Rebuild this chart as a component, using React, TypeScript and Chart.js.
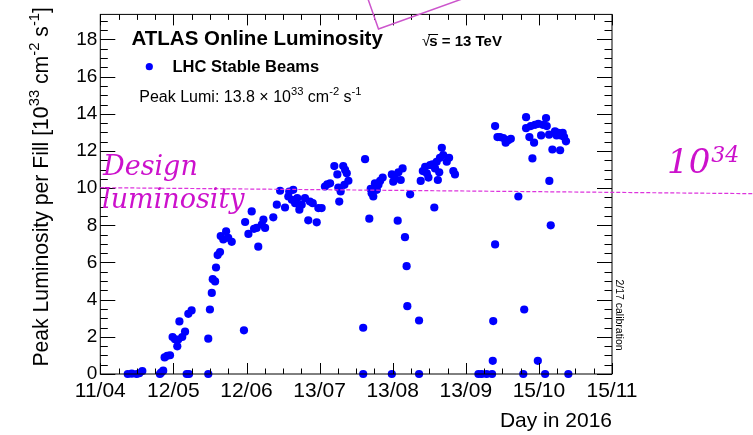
import { useEffect, useRef } from 'react';
import { Chart, registerables } from 'chart.js';

Chart.register(...registerables);

// ---- data (day of year 2016, peak luminosity in 1e33 cm^-2 s^-1) ----
const fillDay = [
  113.7, 115.4, 117.5, 118.6, 119.9, 127.4, 127.9, 128.8, 129.4, 130.5,
  131.7, 132.8, 133.8, 134.8, 135.2, 135.7, 136.9, 138.1, 138.8, 139.8,
  139.5, 140.9, 148.0, 148.0, 148.7, 149.5, 149.9, 150.9, 151.3, 152.0,
  153.0, 153.3, 154.4, 155.6, 156.5, 158.0, 163.2, 163.7, 165.1, 166.5,
  167.5, 168.6, 169.3, 170.8, 171.5, 172.2, 175.7, 177.2, 178.6, 180.7,
  182.1, 182.5, 183.6, 184.2, 185.0, 185.9, 186.8, 187.8, 189.2, 190.6,
  191.3, 192.5, 194.2, 194.9, 196.3, 197.7, 198.7, 199.9, 201.7, 203.0,
  203.4, 203.8, 204.4, 205.5, 206.0, 206.3, 207.0, 207.7, 214.0, 214.0,
  214.8, 216.6, 217.2, 217.6, 218.3, 219.0, 219.8, 220.5, 221.2, 222.3,
  226.2, 226.2, 226.8, 227.6, 228.7, 229.0, 230.0, 230.8, 231.8, 232.5,
  232.8, 234.0, 237.8, 237.8, 238.5, 239.4, 240.4, 241.1, 241.8, 242.5,
  243.5, 244.3, 244.6, 245.3, 245.8, 246.4, 246.7, 247.5, 248.1, 249.6,
  250.6, 252.4, 253.1, 263.1, 264.5, 266.6, 268.9, 269.2, 269.4, 270.2,
  270.2, 271.2, 272.3, 273.7, 274.7, 275.8, 276.9, 280.1, 282.2, 282.6,
  283.4, 283.4, 284.8, 285.4, 286.1, 286.8, 287.2, 288.4, 288.6, 289.8,
  290.5, 291.5, 291.9, 292.2, 293.2, 293.3, 293.9, 294.6, 295.7, 296.4,
  297.1, 297.9, 298.2, 299.0, 299.6, 300.4, 301.4,
];
const peakLumi = [
  0, 0.02, 0, 0.04, 0.16, 0, 0.07, 0.18, 0.89, 0.98,
  1.01, 1.99, 1.87, 1.49, 1.85, 2.83, 1.99, 2.28, 0, 0,
  3.24, 3.42, 1.9, 0, 3.47, 4.36, 5.1, 4.98, 5.73, 6.4,
  6.56, 7.42, 7.24, 7.68, 7.33, 7.11, 2.35, 8.18, 7.54, 8.75,
  7.81, 7.86, 6.85, 8.04, 8.31, 7.86, 8.43, 9.11, 9.86, 8.96,
  9.55, 9.82, 9.37, 9.91, 9.19, 9.46, 8.84, 9.11, 9.46, 8.27,
  9.28, 9.19, 8.16, 8.93, 8.93, 10.09, 10.21, 10.26, 11.19, 10.74,
  10.03, 9.28, 9.82, 11.19, 10.18, 10.98, 10.8, 10.4, 2.49, 0,
  11.56, 8.36, 9.96, 9.73, 9.55, 10.26, 9.91, 10.18, 10.39, 10.57,
  10.74, 0, 10.35, 10.5, 8.25, 10.85, 10.44, 11.06, 7.36, 5.8,
  3.65, 9.67, 2.88, 0, 10.39, 10.92, 11.15, 10.8, 10.57, 11.24,
  11.28, 8.96, 11.06, 11.42, 10.44, 10.85, 11.63, 12.17, 11.78, 11.42,
  11.63, 10.92, 10.74, 0, 0, 0, 0, 0.71, 2.85, 6.97,
  13.34, 12.75, 12.75, 12.7, 12.45, 12.58, 12.66, 9.55, 0, 3.47,
  13.82, 13.23, 12.75, 13.34, 11.6, 12.45, 13.41, 0.71, 13.46, 12.84,
  13.41, 0, 13.77, 13.34, 12.88, 10.39, 8.0, 12.08, 13.06, 12.84,
  12.98, 12.04, 12.84, 12.98, 12.75, 12.52, 0,
];

const xTickDays = [102, 133.14, 164.29, 195.43, 226.57, 257.71, 288.86, 320];
const xTickLabels = ['11/04', '12/05', '12/06', '13/07', '13/08', '13/09', '15/10', '15/11'];
const yTickValues = [0, 2, 4, 6, 8, 10, 12, 14, 16, 18];
const X_MIN = 102;
const X_MAX = 320;
const Y_MIN = 0;
const Y_MAX = 19.35;
const designLumi = 10;

const SANS = '"Liberation Sans", Arial, Helvetica, sans-serif';
const SERIF = '"DejaVu Serif", serif';
const MAGENTA = '#cc11cc';

type Seg = { t: string; sup?: boolean };

function drawRich(
  ctx: CanvasRenderingContext2D,
  segs: Seg[],
  x: number,
  y: number,
  size: number,
  weight: string,
  family: string,
  align: 'left' | 'right',
  color: string,
  style = 'normal'
) {
  const fontFor = (s: Seg) => `${style} ${weight} ${s.sup ? size * 0.7 : size}px ${family}`;
  let total = 0;
  for (const s of segs) {
    ctx.font = fontFor(s);
    total += ctx.measureText(s.t).width;
  }
  let cx = align === 'right' ? x - total : x;
  ctx.fillStyle = color;
  ctx.textAlign = 'left';
  ctx.textBaseline = 'alphabetic';
  for (const s of segs) {
    ctx.font = fontFor(s);
    ctx.fillText(s.t, cx, s.sup ? y - size * 0.42 : y);
    cx += ctx.measureText(s.t).width;
  }
}

const decorPlugin = {
  id: 'atlasDecor',
  afterDraw(chart: any) {
    const ctx: CanvasRenderingContext2D = chart.ctx;
    const { left, right, top, bottom } = chart.chartArea;
    const xs = chart.scales.x;
    const ys = chart.scales.y;
    ctx.save();

    // frame
    ctx.strokeStyle = '#000';
    ctx.lineWidth = 1;
    ctx.strokeRect(left, top, right - left, bottom - top);

    // y ticks (inside, both sides)
    ctx.beginPath();
    for (let v = Y_MIN; v <= Y_MAX + 1e-9; v += 0.5) {
      const py = Math.round(ys.getPixelForValue(v)) + 0.5;
      const major = Math.abs(v / 2 - Math.round(v / 2)) < 1e-6;
      const len = major ? 15 : 7.5;
      ctx.moveTo(left, py);
      ctx.lineTo(left + len, py);
      ctx.moveTo(right, py);
      ctx.lineTo(right - len, py);
    }
    // x ticks (inside, bottom and top)
    const step = (X_MAX - X_MIN) / 7 / 4;
    for (let i = 0; i <= 28; i++) {
      const d = X_MIN + i * step;
      const px = Math.round(xs.getPixelForValue(d)) + 0.5;
      const len = i % 4 === 0 ? 11 : 5.5;
      ctx.moveTo(px, bottom);
      ctx.lineTo(px, bottom - len);
      ctx.moveTo(px, top);
      ctx.lineTo(px, top + len);
    }
    ctx.stroke();

    // y axis title
    ctx.save();
    ctx.translate(48, 7);
    ctx.rotate(-Math.PI / 2);
    drawRich(
      ctx,
      [
        { t: 'Peak Luminosity per Fill [10' },
        { t: '33', sup: true },
        { t: ' cm' },
        { t: '-2', sup: true },
        { t: ' s' },
        { t: '-1', sup: true },
        { t: ']' },
      ],
      0,
      0,
      21.2,
      'normal',
      SANS,
      'right',
      '#000'
    );
    ctx.restore();

    // ATLAS label
    ctx.fillStyle = '#000';
    ctx.textAlign = 'left';
    ctx.textBaseline = 'alphabetic';
    ctx.font = `bold 20.5px ${SANS}`;
    ctx.fillText('ATLAS Online Luminosity', 131.5, 44.5);

    // sqrt(s) = 13 TeV
    ctx.font = `normal 15px ${SANS}`;
    ctx.fillText('\u221A', 422, 46);
    const rw = ctx.measureText('\u221A').width;
    ctx.font = `bold 15px ${SANS}`;
    const sx = 422 + rw - 1;
    ctx.fillText('s = 13 TeV', sx, 46);
    const sw = ctx.measureText('s').width;
    ctx.beginPath();
    ctx.lineWidth = 1;
    ctx.moveTo(sx - 1, 34.5);
    ctx.lineTo(sx + sw + 0.5, 34.5);
    ctx.stroke();

    // legend
    ctx.fillStyle = '#0000ff';
    ctx.beginPath();
    ctx.arc(149.3, 66.7, 3.6, 0, Math.PI * 2);
    ctx.fill();
    ctx.fillStyle = '#000';
    ctx.font = `bold 16.5px ${SANS}`;
    ctx.fillText('LHC Stable Beams', 172.5, 72);

    drawRich(
      ctx,
      [
        { t: 'Peak Lumi: 13.8 \u00D7 10' },
        { t: '33', sup: true },
        { t: ' cm' },
        { t: '-2', sup: true },
        { t: ' s' },
        { t: '-1', sup: true },
      ],
      139.3,
      101.7,
      16,
      'normal',
      SANS,
      'left',
      '#000'
    );

    // calibration note
    ctx.save();
    ctx.translate(618.5, 315);
    ctx.rotate(Math.PI / 2);
    ctx.fillStyle = '#000';
    ctx.font = `normal 10.5px ${SANS}`;
    ctx.textAlign = 'center';
    ctx.textBaseline = 'middle';
    ctx.fillText('2/17 calibration', 0, 0);
    ctx.restore();

    // design luminosity line
    const yd = ys.getPixelForValue(designLumi);
    ctx.strokeStyle = '#dd33dd';
    ctx.lineWidth = 1.2;
    ctx.setLineDash([4, 2]);
    ctx.beginPath();
    ctx.moveTo(left, yd - 0.5);
    ctx.lineTo(chart.width, yd + 5.5);
    ctx.stroke();
    ctx.setLineDash([]);

    ctx.fillStyle = MAGENTA;
    ctx.textAlign = 'left';
    ctx.textBaseline = 'alphabetic';
    ctx.font = `italic normal 27px ${SERIF}`;
    ctx.fillText('Design', 103, 175);
    ctx.fillText('luminosity', 102, 207.5);

    ctx.font = `italic normal 34px ${SERIF}`;
    ctx.fillText('10', 667, 173);
    const tw = ctx.measureText('10').width;
    ctx.font = `italic normal 22px ${SERIF}`;
    ctx.fillText('34', 667 + tw + 1, 161.5);

    // magenta box corner at top
    ctx.strokeStyle = '#cc55cc';
    ctx.lineWidth = 1.5;
    ctx.beginPath();
    ctx.moveTo(368, -1);
    ctx.lineTo(378.5, 29);
    ctx.lineTo(462, -1);
    ctx.stroke();

    ctx.restore();
  },
};

export default function App() {
  const canvasRef = useRef<HTMLCanvasElement | null>(null);

  useEffect(() => {
    const canvas = canvasRef.current;
    if (!canvas) return;
    const points = fillDay.map((d, i) => ({ x: d, y: peakLumi[i] }));
    const chart = new Chart(canvas, {
      type: 'scatter',
      data: {
        datasets: [
          {
            label: 'LHC Stable Beams',
            data: points,
            pointRadius: 4.1,
            pointHoverRadius: 4.1,
            pointBackgroundColor: '#0000ff',
            pointBorderWidth: 0,
            borderWidth: 0,
            clip: false as any,
          },
        ],
      },
      options: {
        responsive: false,
        animation: false,
        devicePixelRatio: 1,
        layout: { padding: { top: 11, right: 141, bottom: 0, left: 0 } },
        plugins: {
          legend: { display: false },
          tooltip: { enabled: false },
        },
        scales: {
          x: {
            type: 'linear',
            min: X_MIN,
            max: X_MAX,
            afterBuildTicks: (s: any) => {
              s.ticks = xTickDays.map((v) => ({ value: v }));
            },
            afterFit: (s: any) => {
              s.height = 61;
            },
            ticks: {
              callback: (_v: any, i: number) => xTickLabels[i],
              font: { size: 21, family: SANS },
              color: '#000',
              padding: 5,
              maxRotation: 0,
              autoSkip: false,
            },
            grid: { display: false, drawTicks: false },
            border: { display: false },
            title: {
              display: true,
              text: 'Day in 2016',
              align: 'end',
              color: '#000',
              font: { size: 21, family: SANS },
              padding: { top: 0, bottom: 1 },
            },
          },
          y: {
            type: 'linear',
            min: Y_MIN,
            max: Y_MAX,
            afterBuildTicks: (s: any) => {
              s.ticks = yTickValues.map((v) => ({ value: v }));
            },
            afterFit: (s: any) => {
              s.width = 100.3;
            },
            ticks: {
              font: { size: 19, family: SANS },
              color: '#000',
              padding: 3,
            },
            grid: { display: false, drawTicks: false },
            border: { display: false },
          },
        },
      },
      plugins: [decorPlugin],
    });
    return () => chart.destroy();
  }, []);

  return (
    <div style={{ position: 'fixed', left: 0, top: 0, width: 753, height: 435, background: '#fff' }}>
      <canvas ref={canvasRef} width={753} height={435} style={{ width: 753, height: 435, display: 'block' }} />
    </div>
  );
}
